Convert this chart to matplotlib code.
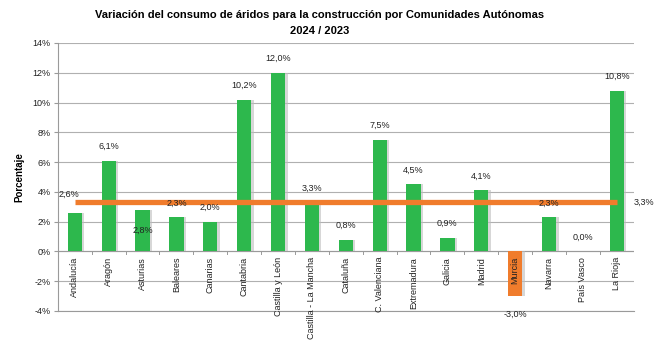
import numpy as np
import matplotlib.pyplot as plt
import matplotlib.patheffects as pe

# Data
regions = ['Andalucía', 'Aragón', 'Asturias', 'Baleares', 'Canarias', 'Cantabria',
           'Castilla y León', 'Castilla - La Mancha', 'Cataluña', 'C. Valenciana',
           'Extremadura', 'Galicia', 'Madrid', 'Murcia', 'Navarra', 'País Vasco', 'La Rioja']
variation = [2.6, 6.1, 2.8, 2.3, 2.0, 10.2, 12.0, 3.3, 0.8, 7.5,
             4.5, 0.9, 4.1, -3.0, 2.3, 0.0, 10.8]
average = 3.3
y_ticks = [-4, -2, 0, 2, 4, 6, 8, 10, 12, 14]

plt.rcParams['font.family'] = ['Liberation Sans', 'DejaVu Sans']

green = '#2db84d'
orange = '#f07c2c'

fig = plt.figure(figsize=(6.65, 3.44), dpi=100)
ax = fig.add_axes([0.087, 0.096, 0.866, 0.779])

x = np.arange(len(regions))
colors = [orange if v < 0 else green for v in variation]

# soft shadow behind bars
ax.bar(x + 0.07, variation, width=0.42, color='#bdbdbd', alpha=0.6, zorder=2)
ax.bar(x, variation, width=0.42, color=colors, zorder=3)

# average line
ax.plot([x[0], x[-1]], [average, average], color=orange, lw=3.8, zorder=4,
        solid_capstyle='butt')

fmt = lambda v: f'{v:.1f}%'.replace('.', ',')

# label offsets in points (dx, dy) relative to bar top
offsets = {0: (-4, 13), 2: (0, -15), 3: (0, 7), 13: (0, -10)}
for i, v in enumerate(variation):
    dx, dy = offsets.get(i, (0, 7))
    va = 'top' if i == 13 else 'bottom'
    if i in (0, 2):
        va = 'center'
    ax.annotate(fmt(v), (i, v), xytext=(dx, dy), textcoords='offset points',
                ha='center', va=va, fontsize=6.5, color='#222222', zorder=6)

ax.annotate(fmt(average), (x[-1], average), xytext=(12, 0), textcoords='offset points',
            ha='left', va='center', fontsize=6.5, color='#222222')

# category labels hanging from the zero line
for i, name in enumerate(regions):
    ax.annotate(name, (i, 0), xytext=(0, -4), textcoords='offset points',
                rotation=90, ha='center', va='top', fontsize=6.5,
                color='#222222', zorder=6)

# small tick marks on the zero line between categories
for b in np.arange(-0.5, len(regions), 1):
    ax.plot([b, b], [0, -0.15], color='#9a9a9a', lw=0.7, zorder=1)
ax.axhline(0, color='#9a9a9a', lw=0.8, zorder=1)

ax.set_xlim(-0.5, len(regions) - 0.5)
ax.set_ylim(-4, 14)
ax.set_yticks(y_ticks)
ax.set_yticklabels([f'{t}%' for t in y_ticks], fontsize=6.5, color='#222222')
ax.set_xticks([])
ax.grid(axis='y', color='#b0b0b0', lw=0.8, zorder=0)
ax.set_axisbelow(True)
for s in ['top', 'right']:
    ax.spines[s].set_visible(False)
ax.spines['left'].set_color('#9a9a9a')
ax.spines['bottom'].set_color('#9a9a9a')
ax.tick_params(axis='y', length=3, color='#9a9a9a', pad=2)

ax.set_ylabel('Porcentaje', fontsize=7, fontweight='bold', labelpad=6)

fig.text(0.48, 0.955, 'Variación del consumo de áridos para la construcción por Comunidades Autónomas',
         ha='center', va='center', fontsize=8, fontweight='bold')
fig.text(0.48, 0.91, '2024 / 2023', ha='center', va='center', fontsize=8, fontweight='bold')

fig.savefig('out.png', dpi=100)
